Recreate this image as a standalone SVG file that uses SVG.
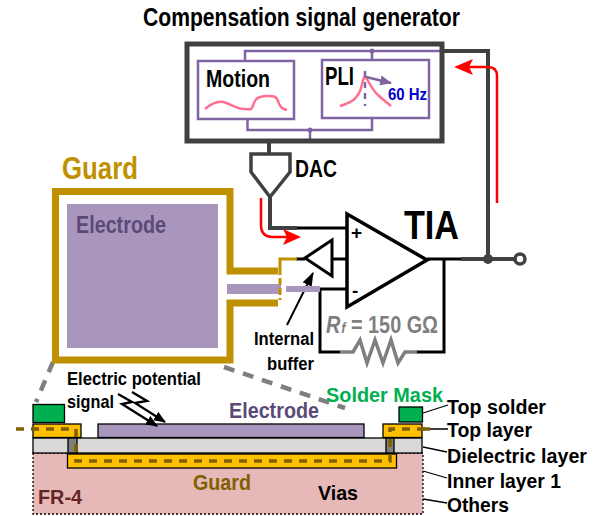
<svg xmlns="http://www.w3.org/2000/svg" width="605" height="516" viewBox="0 0 605 516">
<style>
text{font-family:"Liberation Sans",Arial,sans-serif;font-weight:bold;fill:#000}
.k{fill:none;stroke:#000;stroke-width:3}
.g{fill:none;stroke:#404040;stroke-width:4}
.p{fill:none;stroke:#8064A2;stroke-width:2.500}
.au{fill:none;stroke:#BF9000;stroke-width:7}
.pink{fill:none;stroke:#FF6F8F;stroke-width:2.500}
.lead{stroke:#000;stroke-width:1.300;fill:none}
.bolt{stroke:#000;stroke-width:2.300;fill:none}
.dash{stroke:#7F6000;stroke-width:3.500;fill:none;stroke-dasharray:8 7}
.ly{stroke:#000;stroke-width:1.300}
</style>
<defs>
<marker id="ar" markerWidth="12" markerHeight="10" refX="11" refY="5" orient="auto" markerUnits="userSpaceOnUse"><path d="M0 0L12 5L0 10z" fill="#000"/></marker>
<marker id="ab" markerWidth="14" markerHeight="10" refX="13" refY="5" orient="auto" markerUnits="userSpaceOnUse"><path d="M0 0L14 5L0 10z" fill="#000"/></marker>
<marker id="ap" markerWidth="12" markerHeight="10" refX="11" refY="5" orient="auto" markerUnits="userSpaceOnUse"><path d="M0 0L12 5L0 10z" fill="#8064A2"/></marker>
</defs>

<g id="title"><text x="143" y="26" font-size="26" textLength="317" lengthAdjust="spacingAndGlyphs">Compensation signal generator</text></g>

<g id="connectors">
<path class="p" d="M245 61V51H442M372 51V60M247.500 119V130H372V118M310 130V141"/>
<circle cx="372" cy="51" r="2.500" fill="#8064A2"/><circle cx="310" cy="130" r="2.500" fill="#8064A2"/>
<path class="g" d="M442 51H488V259M461 259H514M269 141V153"/>
<path class="g" d="M270 197V228H297"/>
<path class="k" d="M297 228H347M427 259H461M444 259V352H416M340 352H320V289H347M296 259H305M332 259H347"/>
<circle cx="488" cy="259" r="5" fill="#404040"/>
<circle cx="520" cy="259" r="5" fill="#fff" stroke="#404040" stroke-width="3.500"/>
<path d="M497 203V76Q497 67 488 67H464" fill="none" stroke="#f00" stroke-width="2.500"/>
<path d="M454 67L473 59L469 67L473 75z" fill="#f00"/>
<path d="M261 198V225Q261 237 273 237H290" fill="none" stroke="#f00" stroke-width="2.500"/>
<path d="M301 237L283 229L287 237L283 245z" fill="#f00"/>
<path d="M340 352H353L360 340L367 363L375 340L383 363L391 340L398 363L405 352H417" fill="none" stroke="#7f7f7f" stroke-width="3.500"/>
<path d="M287 325L313 273" fill="none" stroke="#000" stroke-width="2" marker-end="url(#ab)"/>
<path d="M53 362L36 402M224 367L345 408" fill="none" stroke="#7f7f7f" stroke-width="4.500" stroke-dasharray="11 9"/>
<path class="lead" d="M423 413L448 405M422 429H448M423 447L447 452M423 471L447 478M423 499L447 503"/>
</g>

<g id="compensation-generator">
<rect x="187" y="44" width="255" height="97" fill="none" stroke="#404040" stroke-width="5"/>
</g>
<g id="motion">
<rect x="198" y="61" width="96" height="58" fill="#fff" stroke="#8064A2" stroke-width="2.500"/>
<text x="206" y="87" font-size="23" textLength="64" lengthAdjust="spacingAndGlyphs">Motion</text>
<path class="pink" d="M205 109C212 103 218 101 223 102C232 104 236 109 245 109C255 110 250 108 253 106C255 98 258 97 265 96C272 96 276 95 278 101C280 108 283 109 287 110"/>
</g>
<g id="pli">
<rect x="322" y="60" width="107" height="58" fill="#fff" stroke="#8064A2" stroke-width="2.500"/>
<text x="325" y="85" font-size="25" textLength="29" lengthAdjust="spacingAndGlyphs">PLI</text>
<path class="pink" d="M340 106C350 103 356 100 360 91C362 86 363 78 365 76C368 80 372 90 378 95C383 100 388 103 391 106"/>
<path d="M365 71V106" fill="none" stroke="#8064A2" stroke-width="2.500" stroke-dasharray="6 5"/>
<path d="M366 77L391 83" fill="none" stroke="#8064A2" stroke-width="2.500" marker-end="url(#ap)"/>
<text x="388" y="100" font-size="17" textLength="39" lengthAdjust="spacingAndGlyphs" style="fill:#0000CC">60 Hz</text>
</g>
<g id="dac">
<path d="M251 154H290V172L270 197L251 172z" fill="#fff" stroke="#404040" stroke-width="3.500"/>
<text x="295" y="177" font-size="23" textLength="42" lengthAdjust="spacingAndGlyphs">DAC</text>
</g>

<g id="electrode-guard">
<path class="au" d="M278 271H230V191.500H55.500V360H230V303H278"/>
<rect x="67" y="204" width="151" height="144" fill="#A996BD"/>
<rect x="227" y="284" width="54" height="10" fill="#A996BD"/>
<rect x="286" y="286" width="34" height="6" fill="#A996BD"/>
<path d="M297 259H280V268" fill="none" stroke="#BF9000" stroke-width="3"/>
<path d="M280 268V300" fill="none" stroke="#BF9000" stroke-width="3" stroke-dasharray="7 3"/>
<text x="62" y="179" font-size="31" textLength="76" lengthAdjust="spacingAndGlyphs" style="fill:#BF9000">Guard</text>
<text x="76" y="233" font-size="23" textLength="90" lengthAdjust="spacingAndGlyphs" style="fill:#5B4A78">Electrode</text>
</g>

<g id="tia">
<path d="M347 214L427 260L347 307z" fill="#fff" stroke="#000" stroke-width="3.500"/>
<text x="351" y="239" font-size="19">+</text>
<text x="352" y="297" font-size="19">-</text>
<text x="404" y="239" font-size="40" textLength="55" lengthAdjust="spacingAndGlyphs">TIA</text>
</g>
<g id="buffer">
<path d="M305 258L332 240V276z" fill="#fff" stroke="#000" stroke-width="3"/>
<text x="254" y="345" font-size="18" textLength="60" lengthAdjust="spacingAndGlyphs">Internal</text>
<text x="267" y="370" font-size="18" textLength="47" lengthAdjust="spacingAndGlyphs">buffer</text>
</g>
<g id="feedback-resistor"><text x="326" y="333" font-size="23" textLength="112" lengthAdjust="spacingAndGlyphs" style="fill:#7f7f7f"><tspan font-style="italic">R</tspan><tspan font-style="italic" font-size="15" dx="1">f</tspan><tspan> = 150 GΩ</tspan></text></g>

<g id="cross-section">
<rect x="33" y="453" width="390" height="61" fill="#E6B8B7" stroke="#000" stroke-width="1.300" stroke-dasharray="2 2"/>
<rect x="33" y="438" width="389" height="15" fill="#D9D9D9" class="ly"/>
<rect x="68" y="438" width="9" height="15" fill="#7f7f7f" class="ly"/>
<rect x="386" y="438" width="8" height="15" fill="#7f7f7f" class="ly"/>
<rect x="67.500" y="454" width="329" height="14" fill="#FFC000" class="ly"/>
<rect x="33" y="424" width="48" height="13.500" fill="#FFC000" class="ly"/>
<rect x="383" y="424" width="39" height="13.500" fill="#FFC000" class="ly"/>
<rect x="98" y="424" width="266" height="13.500" fill="#A996BD" class="ly"/>
<rect x="33" y="404.500" width="31.500" height="18" fill="#00B050" class="ly"/>
<rect x="399" y="407" width="23.500" height="15" fill="#00B050" class="ly"/>
<path class="dash" d="M16 429H76V461H390V429H430"/>
<path d="M422 429H430" stroke="#7F6000" stroke-width="3.500"/>
<path class="bolt" marker-end="url(#ar)" d="M118 394L132 402L122 404L157 426"/>
<path class="bolt" marker-end="url(#ar)" d="M132 392L147 401L135 403L165 422"/>
<text x="67" y="385" font-size="18.500" textLength="134" lengthAdjust="spacingAndGlyphs">Electric potential</text>
<text x="67" y="408" font-size="18.500" textLength="47" lengthAdjust="spacingAndGlyphs">signal</text>
<text x="229" y="418" font-size="22" textLength="90" lengthAdjust="spacingAndGlyphs" style="fill:#5B4A78">Electrode</text>
<text x="326" y="402" font-size="21" textLength="117" lengthAdjust="spacingAndGlyphs" style="fill:#00B050">Solder Mask</text>
<text x="193" y="490" font-size="22" textLength="58" lengthAdjust="spacingAndGlyphs" style="fill:#7F6000">Guard</text>
<text x="38" y="504" font-size="21" textLength="44" lengthAdjust="spacingAndGlyphs" style="fill:#632523">FR-4</text>
<text x="318" y="500" font-size="21" textLength="40" lengthAdjust="spacingAndGlyphs">Vias</text>
<text x="447" y="414" font-size="20" textLength="99" lengthAdjust="spacingAndGlyphs">Top solder</text>
<text x="447" y="437" font-size="20" textLength="85" lengthAdjust="spacingAndGlyphs">Top layer</text>
<text x="447" y="463" font-size="21" textLength="140" lengthAdjust="spacingAndGlyphs">Dielectric layer</text>
<text x="447" y="488" font-size="21" textLength="114" lengthAdjust="spacingAndGlyphs">Inner layer 1</text>
<text x="447" y="512" font-size="21" textLength="62" lengthAdjust="spacingAndGlyphs">Others</text>
</g>
</svg>
